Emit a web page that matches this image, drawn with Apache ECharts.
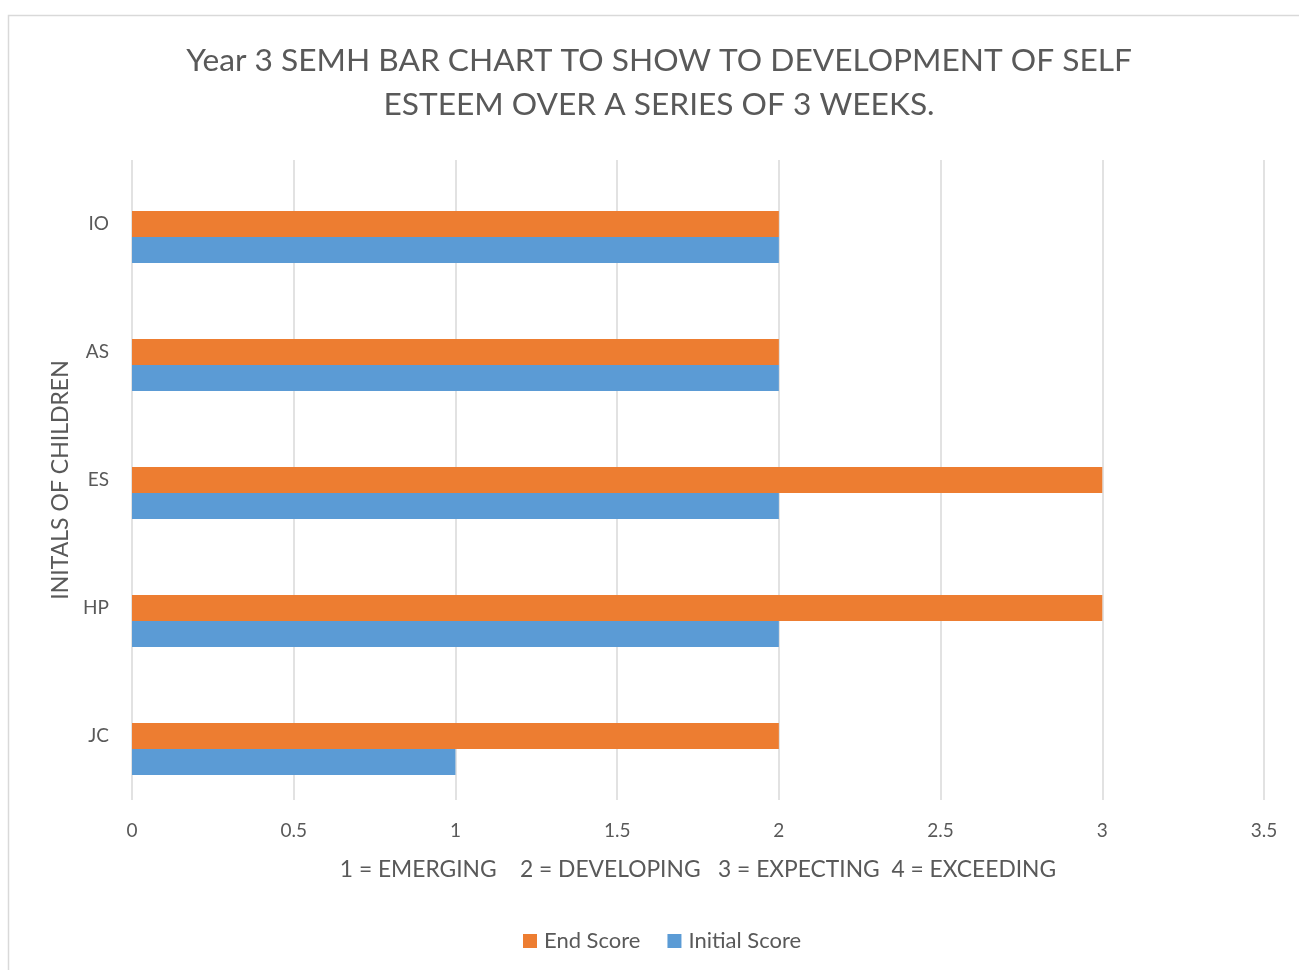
<!DOCTYPE html>
<html><head><meta charset="utf-8">
<script src="https://cdn.jsdelivr.net/npm/echarts@6/dist/echarts.min.js"></script>
<style>html,body{margin:0;padding:0;background:#fff}#c{width:1299px;height:970px}</style>
</head><body><div id="c"></div>
<script>
const categories = ['JC','HP','ES','AS','IO'];
const initialScore = [1,2,2,2,2];
const endScore = [2,3,3,2,2];
const xTicks = [0,0.5,1,1.5,2,2.5,3,3.5];
const titleText = 'Year 3 SEMH BAR CHART TO SHOW TO DEVELOPMENT OF SELF\nESTEEM OVER A SERIES OF 3 WEEKS.';
const yName = 'INITALS OF CHILDREN';
const xName = '1 = EMERGING    2 = DEVELOPING   3 = EXPECTING  4 = EXCEEDING';

const font = 'Lato';
const chart = echarts.init(document.getElementById('c'));
chart.setOption({
  animation:false,
  textStyle:{fontFamily:font},
  graphic:[{type:'rect',shape:{x:8.5,y:15.5,width:1300,height:970},style:{fill:'none',stroke:'#d9d9d9',lineWidth:1.5},silent:true}],
  title:{text:titleText,left:654,top:34,textAlign:'center',textStyle:{fontFamily:font,fontSize:31.7,fontWeight:'normal',color:'#595959',lineHeight:44}},
  legend:{data:['End Score','Initial Score'],top:925,left:518,itemWidth:14,itemHeight:14,icon:'rect',itemGap:27,textStyle:{fontFamily:font,fontSize:22,color:'#595959',padding:[0,0,0,2]}},
  grid:{left:132,right:35,top:160,bottom:170,containLabel:false},
  xAxis:{type:'value',min:0,max:3.5,interval:0.5,
    name:xName,nameLocation:'middle',nameGap:58,nameTextStyle:{fontFamily:font,fontSize:22.8,color:'#595959'},
    axisLine:{show:false},axisTick:{show:false},
    axisLabel:{fontSize:19,color:'#595959',margin:21,formatter:v=>String(v)},
    splitLine:{lineStyle:{color:'#d9d9d9',width:1.5}}},
  yAxis:{type:'category',data:categories,
    name:yName,nameLocation:'middle',nameGap:60,nameRotate:90,nameTextStyle:{fontFamily:font,fontSize:23,color:'#595959'},
    axisLine:{show:false},axisTick:{show:false},
    axisLabel:{fontSize:19,color:'#595959',margin:23}},
  series:[
    {name:'_',type:'bar',data:categories.map(()=>null),barWidth:26,barGap:'0%'},
    {name:'End Score',type:'bar',data:endScore,itemStyle:{color:'#ed7d31'},barWidth:26,barGap:'0%'},
    {name:'Initial Score',type:'bar',data:initialScore,itemStyle:{color:'#5b9bd5'},barWidth:26,barGap:'0%'}
  ]
});
</script></body></html>
